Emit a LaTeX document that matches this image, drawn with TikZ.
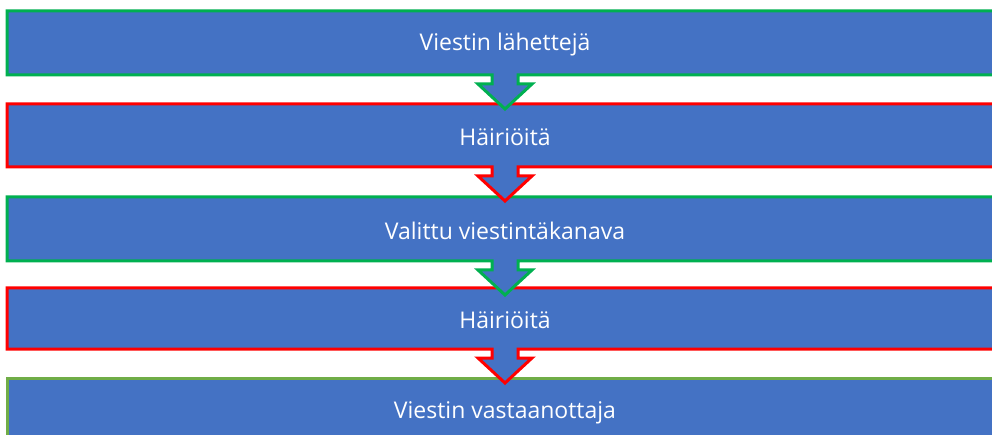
\documentclass[tikz,border=0pt]{standalone}
\usepackage{fontspec}
\setmainfont{Open Sans}
\definecolor{barblue}{HTML}{4472C4}
\definecolor{edgegreen}{HTML}{00B050}
\definecolor{edgered}{HTML}{FF0000}
\definecolor{edgeolive}{HTML}{70AD47}
\tikzset{
  stage/.style={fill=barblue, line width=3pt, line join=miter},
  label/.style={text=white, font=\fontsize{23}{26}\selectfont, inner sep=0pt, anchor=center},
}
% bar with a down arrow tab: #1 top, #2 bottom, #3 outline colour
\newcommand{\stagewitharrow}[3]{%
  \draw[stage, draw=#3] (7,#1) -- (1012,#1) -- (1012,#2) -- (518,#2) -- (518,#2+9)
    -- (532,#2+9) -- (505,#2+34) -- (478,#2+9) -- (492,#2+9) -- (492,#2)
    -- (7,#2) -- cycle;}
\begin{document}
\begin{tikzpicture}[x=1pt, y=-1pt]
  \fill[white] (0,0) rectangle (992,435);
  \clip (0,0) rectangle (992,435);
  % bottom stage first, each upper arrow overlaps the stage below
  \draw[stage, draw=edgeolive] (7,378) rectangle (1012,450);
  \stagewitharrow{288}{349}{edgered}
  \stagewitharrow{197}{261}{edgegreen}
  \stagewitharrow{104}{167}{edgered}
  \stagewitharrow{11}{75}{edgegreen}
  \node[label] (sender)   at (505,44.5)  {Viestin lähettejä};
  \node[label] (noise1)   at (505,137.5) {Häiriöitä};
  \node[label] (channel)  at (505,230.5) {Valittu viestintäkanava};
  \node[label] (noise2)   at (505,320.5) {Häiriöitä};
  \node[label] (receiver) at (505,412.5) {Viestin vastaanottaja};
\end{tikzpicture}
\end{document}
